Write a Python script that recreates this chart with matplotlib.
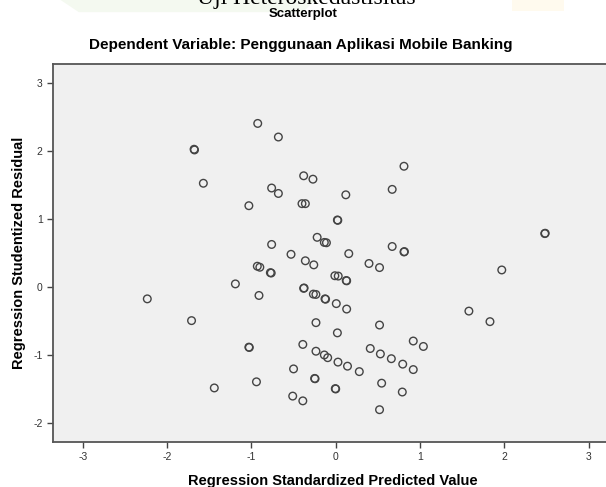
import matplotlib
matplotlib.use("Agg")
import matplotlib.pyplot as plt
from matplotlib.patches import Polygon

# standardized predicted value (x) and studentized residual (y)
pred = [-0.925, -0.68, -1.68, -1.675, -1.57, -0.76, -0.68, -1.03, -0.76, -0.93,
        -0.90, 0.81, -0.38, -0.27, 0.67, 0.12, -0.40, -0.36, 0.02, 0.025,
        -0.22, -0.135, -0.11, 0.67, 0.81, 0.815, -0.53, -0.36, -0.26, 0.155,
        0.395, 0.52, -0.775, -0.765, -1.19, -0.91, -2.235, -1.71, -1.03, -1.025,
        -0.94, -1.44, -0.01, 0.03, 0.125, 0.13, -0.38, -0.375, -0.265, -0.235,
        -0.127, -0.12, 0.007, 0.13, -0.234, 0.52, 0.02, 0.92, 1.04, -0.39,
        -0.234, -0.135, -0.095, 0.027, 0.14, 0.28, 0.41, 0.53, 0.66, 0.795,
        0.92, -0.50, -0.25, -0.245, -0.005, 0.0, 0.545, 0.79, -0.51, -0.39,
        0.52, 2.48, 2.485, 1.97, 1.58, 1.83]
resid = [2.41, 2.21, 2.03, 2.02, 1.53, 1.46, 1.38, 1.20, 0.63, 0.31,
         0.295, 1.78, 1.64, 1.59, 1.44, 1.36, 1.23, 1.23, 0.99, 0.985,
         0.735, 0.66, 0.655, 0.60, 0.52, 0.525, 0.485, 0.39, 0.33, 0.495,
         0.35, 0.29, 0.215, 0.21, 0.05, -0.12, -0.17, -0.49, -0.88, -0.885,
         -1.39, -1.48, 0.17, 0.165, 0.10, 0.095, -0.015, -0.01, -0.10, -0.105,
         -0.17, -0.175, -0.24, -0.32, -0.52, -0.555, -0.67, -0.79, -0.87, -0.84,
         -0.94, -0.995, -1.035, -1.10, -1.16, -1.24, -0.90, -0.98, -1.05, -1.13,
         -1.21, -1.20, -1.34, -1.345, -1.49, -1.495, -1.41, -1.54, -1.60, -1.67,
         -1.80, 0.79, 0.795, 0.255, -0.35, -0.505]

xticks = [-3, -2, -1, 0, 1, 2, 3]
yticks = [-2, -1, 0, 1, 2, 3]

plt.rcParams["axes.unicode_minus"] = False

W, H = 606, 487
fig = plt.figure(figsize=(W / 100, H / 100), dpi=100)

# faint watermark shapes in the top strip
fig.patches.append(Polygon([(0.10, 1.0), (0.52, 1.0), (0.50, 0.975), (0.13, 0.975)],
                           closed=True, transform=fig.transFigure,
                           facecolor="#f4f9f0", edgecolor="none", zorder=0))
fig.patches.append(Polygon([(0.845, 1.0), (0.93, 1.0), (0.93, 0.978), (0.845, 0.978)],
                           closed=True, transform=fig.transFigure,
                           facecolor="#fffaee", edgecolor="none", zorder=0))

# clipped heading above the chart
fig.text(0.505, 1 - 4 / H, "Uji Heteroskedastisitas", ha="center", va="baseline",
         fontsize=17, family="Liberation Serif", color="black")

fig.text(0.50, 1 - 14 / H, "Scatterplot", ha="center", va="center",
         fontsize=9.5, fontweight="bold", family="Liberation Sans")
fig.text(0.496, 1 - 45 / H, "Dependent Variable: Penggunaan Aplikasi Mobile Banking",
         ha="center", va="center", fontsize=11, fontweight="bold",
         family="Liberation Sans")

left, right, top, bottom = 53, 612, 64, 442
ax = fig.add_axes([left / W, (H - bottom) / H, (right - left) / W, (bottom - top) / H])
ax.set_facecolor("#f0f0f0")

ax.scatter(pred, resid, s=30, facecolors="none", edgecolors="#444444", linewidths=1.0)

x0, px_x = 335.7, 84.3
y0, px_y = 287.3, 68.0
ax.set_xlim((left - x0) / px_x, (right - x0) / px_x)
ax.set_ylim((y0 - bottom) / px_y, (y0 - top) / px_y)

ax.set_xticks(xticks)
ax.set_yticks(yticks)
ax.tick_params(direction="out", length=4, width=1, color="#444444",
               labelsize=7.5, labelcolor="#333333")
for lab in ax.get_xticklabels() + ax.get_yticklabels():
    lab.set_family("Liberation Sans")

for s in ["left", "bottom", "top"]:
    ax.spines[s].set_color("#555555")
    ax.spines[s].set_linewidth(1.3)
ax.spines["right"].set_visible(False)

ax.set_xlabel("Regression Standardized Predicted Value", fontsize=10.5,
              fontweight="bold", family="Liberation Sans", labelpad=8)
ax.set_ylabel("Regression Studentized Residual", fontsize=10.5,
              fontweight="bold", family="Liberation Sans", labelpad=5)

fig.savefig("out.png", dpi=100)
